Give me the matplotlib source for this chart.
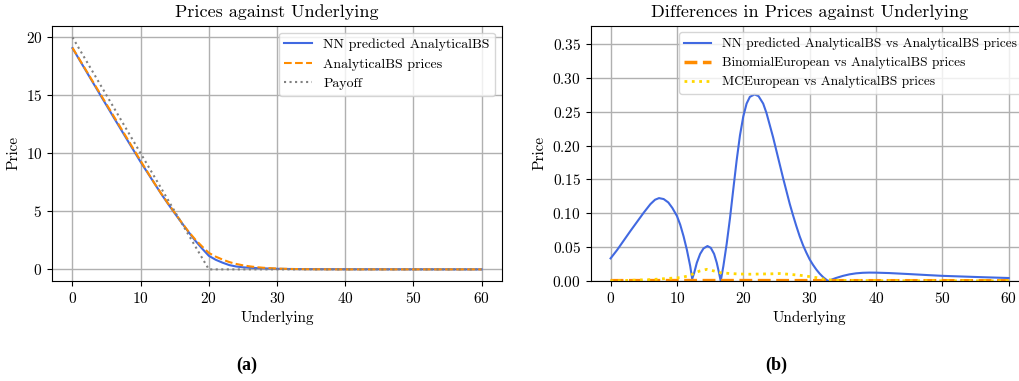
import matplotlib
matplotlib.use("Agg")
import matplotlib.pyplot as plt
from matplotlib.ticker import MultipleLocator

plt.rcParams['font.family'] = ['cmr10', 'DejaVu Serif']
plt.rcParams['mathtext.fontset'] = 'cm'
plt.rcParams['axes.formatter.use_mathtext'] = True

# ---- data (a): prices against underlying
underlying = [0, 2, 4, 6, 8, 10, 12, 13, 14, 15, 16, 17, 18, 19, 20, 21, 22, 23,
              24, 25, 26, 27, 28, 30, 32, 35, 40, 50, 60]
bs_prices = [19.10, 17.15, 15.20, 13.25, 11.30, 9.35, 7.45, 6.55, 5.70, 4.88, 4.05,
             3.27, 2.58, 1.98, 1.42, 1.10, 0.85, 0.63, 0.47, 0.35, 0.26, 0.19,
             0.14, 0.07, 0.035, 0.01, 0.0, 0.0, 0.0]
nn_prices = [19.07, 17.09, 15.11, 13.14, 11.19, 9.25, 7.43, 6.52, 5.66, 4.83, 4.03,
             3.24, 2.48, 1.80, 1.17, 0.83, 0.58, 0.37, 0.25, 0.18, 0.14, 0.11,
             0.09, 0.05, 0.032, 0.02, 0.012, 0.006, 0.003]
payoff_x = [0, 20, 60]
payoff_y = [20, 0, 0]

# ---- data (b): differences against underlying
diff_x = [0, 1, 2, 3, 4, 5, 6, 6.7, 7.3, 8, 8.7, 9.3, 10, 10.5, 11, 11.5, 12, 12.3,
          12.6, 13, 13.5, 14, 14.6, 15.1, 15.6, 16, 16.3, 16.6, 17, 17.5, 18, 18.5,
          19, 19.5, 20, 20.5, 21, 21.7, 22.3, 23, 23.5, 24, 24.5, 25, 25.5, 26,
          26.5, 27, 27.5, 28, 28.5, 29, 29.5, 30, 30.5, 31, 31.5, 32, 32.5, 32.8,
          33.3, 34, 35, 36, 37, 38, 39, 40, 42, 45, 48, 50, 53, 56, 60]
nn_diff = [0.0334, 0.046, 0.060, 0.074, 0.0875, 0.101, 0.1135, 0.120, 0.1224, 0.121,
           0.116, 0.108, 0.096, 0.083, 0.066, 0.046, 0.022, 0.003, 0.012, 0.027,
           0.040, 0.048, 0.0516, 0.049, 0.040, 0.027, 0.014, 0.0, 0.022, 0.055,
           0.093, 0.136, 0.178, 0.215, 0.243, 0.262, 0.272, 0.2755, 0.273, 0.262,
           0.248, 0.230, 0.212, 0.192, 0.172, 0.152, 0.133, 0.114, 0.097, 0.081,
           0.066, 0.053, 0.042, 0.032, 0.024, 0.017, 0.011, 0.006, 0.002, 0.0,
           0.002, 0.0045, 0.0075, 0.0098, 0.0113, 0.0121, 0.0124, 0.0123, 0.0117,
           0.0102, 0.0086, 0.0076, 0.0066, 0.0056, 0.0044]
mc_x = [0, 3, 6, 9, 10.5, 12, 12.5, 13.5, 14.5, 15.5, 16.5, 18, 19.5, 21, 22.5, 24,
        25.5, 27, 28.5, 30, 31, 32.5, 34, 40, 50, 60]
mc_diff = [0.0, 0.001, 0.002, 0.004, 0.005, 0.008, 0.011, 0.015, 0.0172, 0.015,
           0.0123, 0.011, 0.0103, 0.010, 0.0103, 0.0105, 0.011, 0.0098, 0.0085,
           0.0065, 0.005, 0.002, 0.001, 0.0005, 0.0003, 0.0002]
binom_x = [0, 10, 20, 30, 40, 50, 60]
binom_diff = [0.0005, 0.0006, 0.0006, 0.0005, 0.0004, 0.0004, 0.0003]

fig = plt.figure(figsize=(10.2, 3.81), dpi=100)

ax1 = fig.add_axes([0.051, 0.2625, 0.4412, 0.670])
ax1.plot(underlying, nn_prices, color='royalblue', lw=1.5, label='NN predicted AnalyticalBS')
ax1.plot(underlying, bs_prices, color='darkorange', lw=1.5, ls='--', label='AnalyticalBS prices')
ax1.plot(payoff_x, payoff_y, color='gray', lw=1.5, ls=':', label='Payoff')
ax1.yaxis.set_major_locator(MultipleLocator(5))
ax1.set_title('Prices against Underlying', fontsize=13)
ax1.set_xlabel('Underlying', fontsize=11)
ax1.set_ylabel('Price', fontsize=11)
ax1.grid(True, color='#b0b0b0', lw=1)
ax1.legend(loc='upper right', fontsize=10)
ax1.tick_params(labelsize=11)

ax2 = fig.add_axes([0.5791, 0.2625, 0.4293, 0.670])
ax2.plot(diff_x, nn_diff, color='royalblue', lw=1.5,
         label='NN predicted AnalyticalBS vs AnalyticalBS prices')
ax2.plot(binom_x, binom_diff, color='darkorange', lw=2.5, ls='--',
         label='BinomialEuropean vs AnalyticalBS prices')
ax2.plot(mc_x, mc_diff, color='gold', lw=2, ls=':',
         label='MCEuropean vs AnalyticalBS prices')
ax2.set_ylim(0, 0.377)
ax2.set_title('Differences in Prices against Underlying', fontsize=13)
ax2.set_xlabel('Underlying', fontsize=11)
ax2.set_ylabel('Price', fontsize=11)
ax2.grid(True, color='#b0b0b0', lw=1)
ax2.legend(loc='upper right', fontsize=9.6)
ax2.tick_params(labelsize=11)

fig.text(247 / 1020, 1 - 365 / 381, '(a)', family='Liberation Serif', weight='bold',
         fontsize=13, ha='center', va='center')
fig.text(776 / 1020, 1 - 365 / 381, '(b)', family='Liberation Serif', weight='bold',
         fontsize=13, ha='center', va='center')

fig.savefig('out.png', dpi=100)
